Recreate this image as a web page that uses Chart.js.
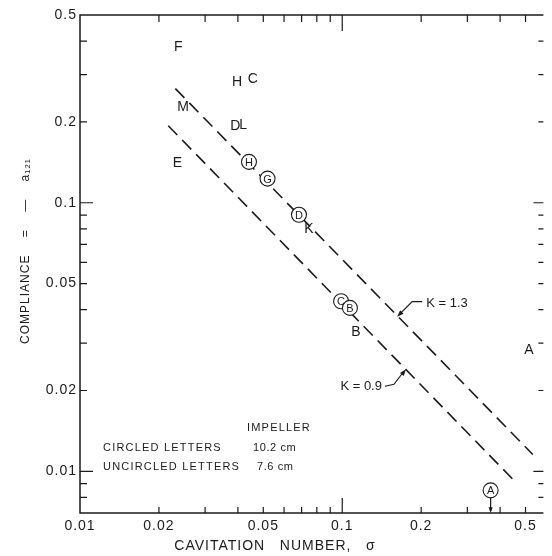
<!DOCTYPE html>
<html>
<head>
<meta charset="utf-8">
<script src="https://cdn.jsdelivr.net/npm/chart.js@4.4.0/dist/chart.umd.min.js"></script>
<style>
  html, body { margin: 0; padding: 0; background: #fff; }
  canvas { display: block; }
</style>
</head>
<body>
<canvas id="compliance-chart" width="552" height="556"></canvas>
<script>
// uncircled letters: 7.6 cm impeller
const uncircledLabels = ['F', 'H', 'C', 'M', 'D', 'L', 'E', 'K', 'B', 'A'];
const uncircledSigma = [0.0237, 0.0397, 0.0456, 0.0247, 0.0391, 0.0419, 0.0235, 0.0747, 0.1127, 0.515];
const uncircledCompliance = [0.382, 0.283, 0.292, 0.230, 0.195, 0.197, 0.142, 0.0807, 0.0333, 0.0285];

// circled letters: 10.2 cm impeller
const circledLabels = ['H', 'G', 'D', 'C', 'B', 'A'];
const circledSigma = [0.0441, 0.0519, 0.0684, 0.099, 0.107, 0.368];
const circledCompliance = [0.142, 0.123, 0.0902, 0.043, 0.0406, 0.0085];

// dashed K lines (end points)
const k13Sigma = [0.0231, 0.533];
const k13Compliance = [0.266, 0.01156];
const k09Sigma = [0.0217, 0.452];
const k09Compliance = [0.1936, 0.00925];

// where the label arrows touch the lines
const k13ArrowAt = [0.162, 0.038];
const k09ArrowAt = [0.175, 0.024];

// axes
const xTickValues = [0.01, 0.02, 0.05, 0.1, 0.2, 0.5];
const xTickLabels = ['0.01', '0.02', '0.05', '0.1', '0.2', '0.5'];
const yTickValues = [0.01, 0.02, 0.05, 0.1, 0.2, 0.5];
const yTickLabels = ['0.01', '0.02', '0.05', '0.1', '0.2', '0.5'];
const xMarkValues = [0.02, 0.03, 0.04, 0.05, 0.06, 0.07, 0.08, 0.09, 0.1, 0.2, 0.3, 0.4, 0.5];
const xLongMarks = [0.1];
const yMarkValues = [0.008, 0.009, 0.01, 0.02, 0.03, 0.04, 0.05, 0.06, 0.07, 0.08, 0.09, 0.1, 0.2, 0.3, 0.4];
const yLongMarks = [0.01, 0.1];

const ink = '#1b1b1b';
const fontFamily = "'Liberation Sans', Arial, sans-serif";

function toPoints(xs, ys) {
  return xs.map((x, i) => ({ x: x, y: ys[i] }));
}

function arrowHead(ctx, fromX, fromY, toX, toY, size) {
  const ang = Math.atan2(toY - fromY, toX - fromX);
  ctx.beginPath();
  ctx.moveTo(toX, toY);
  ctx.lineTo(toX - size * Math.cos(ang - 0.35), toY - size * Math.sin(ang - 0.35));
  ctx.lineTo(toX - size * Math.cos(ang + 0.35), toY - size * Math.sin(ang + 0.35));
  ctx.closePath();
  ctx.fill();
}

const figurePlugin = {
  id: 'figure',
  beforeDraw(chart) {
    chart.ctx.letterSpacing = '1px';
  },
  afterDraw(chart) {
    const ctx = chart.ctx;
    const area = chart.chartArea;
    const xs = chart.scales.x;
    const ys = chart.scales.y;
    ctx.save();
    ctx.strokeStyle = ink;
    ctx.fillStyle = ink;

    // frame (no right-hand line in the original)
    ctx.lineWidth = 1.5;
    ctx.beginPath();
    ctx.moveTo(area.right, area.top);
    ctx.lineTo(area.left, area.top);
    ctx.lineTo(area.left, area.bottom);
    ctx.lineTo(area.right, area.bottom);
    ctx.stroke();

    // inward tick marks
    ctx.lineWidth = 1.2;
    ctx.beginPath();
    xMarkValues.forEach(v => {
      const px = xs.getPixelForValue(v);
      const long = xLongMarks.includes(v);
      ctx.moveTo(px, area.bottom);
      ctx.lineTo(px, area.bottom - (long ? 15 : 6));
      ctx.moveTo(px, area.top);
      ctx.lineTo(px, area.top + (long ? 16 : 7));
    });
    yMarkValues.forEach(v => {
      const py = ys.getPixelForValue(v);
      const long = yLongMarks.includes(v);
      ctx.moveTo(area.left, py);
      ctx.lineTo(area.left + (long ? 13 : 7), py);
      ctx.moveTo(area.right, py);
      ctx.lineTo(area.right - (long ? 10 : 5), py);
    });
    ctx.stroke();

    // letters
    ctx.letterSpacing = '0px';
    ctx.textAlign = 'center';
    ctx.textBaseline = 'alphabetic';
    ctx.font = '14px ' + fontFamily;
    chart.getDatasetMeta(3).data.forEach((pt, i) => {
      ctx.fillText(uncircledLabels[i], pt.x, pt.y + 5);
    });
    ctx.font = '11px ' + fontFamily;
    chart.getDatasetMeta(0).data.forEach((pt, i) => {
      ctx.fillText(circledLabels[i], pt.x, pt.y + 4);
    });

    // arrow from circled A down to the axis
    const aPt = chart.getDatasetMeta(0).data[5];
    ctx.lineWidth = 1.2;
    ctx.beginPath();
    ctx.moveTo(aPt.x, aPt.y + 7.5);
    ctx.lineTo(aPt.x, area.bottom - 2);
    ctx.stroke();
    arrowHead(ctx, aPt.x, aPt.y + 7.5, aPt.x, area.bottom, 6);

    // K = 1.3 label
    ctx.font = '13px ' + fontFamily;
    let tx = xs.getPixelForValue(k13ArrowAt[0]);
    let ty = ys.getPixelForValue(k13ArrowAt[1]);
    ctx.beginPath();
    ctx.moveTo(tx + 25, ty - 14);
    ctx.lineTo(tx + 15, ty - 14);
    ctx.lineTo(tx + 2, ty - 1);
    ctx.stroke();
    arrowHead(ctx, tx + 15, ty - 14, tx, ty + 1, 7);
    ctx.textAlign = 'left';
    ctx.fillText('K = 1.3', tx + 29, ty - 9);

    // K = 0.9 label
    tx = xs.getPixelForValue(k09ArrowAt[0]);
    ty = ys.getPixelForValue(k09ArrowAt[1]);
    ctx.beginPath();
    ctx.moveTo(tx - 21, ty + 17);
    ctx.lineTo(tx - 12, ty + 15);
    ctx.lineTo(tx - 2, ty + 2);
    ctx.stroke();
    arrowHead(ctx, tx - 12, ty + 15, tx, ty, 7);
    ctx.textAlign = 'right';
    ctx.fillText('K = 0.9', tx - 24, ty + 21);

    // impeller key
    ctx.font = '11px ' + fontFamily;
    ctx.letterSpacing = '1.2px';
    ctx.textAlign = 'left';
    ctx.fillText('IMPELLER', 247, 431);
    ctx.fillText('CIRCLED LETTERS', 103, 451);
    ctx.fillText('UNCIRCLED LETTERS', 103, 470);
    ctx.letterSpacing = '0.6px';
    ctx.fillText('10.2 cm', 253, 451);
    ctx.fillText('7.6 cm', 257, 470);

    ctx.restore();
    ctx.letterSpacing = '0px';
  }
};

const ctx = document.getElementById('compliance-chart').getContext('2d');

new Chart(ctx, {
  type: 'scatter',
  data: {
    datasets: [
      {
        label: 'Circled letters (10.2 cm)',
        data: toPoints(circledSigma, circledCompliance),
        pointRadius: 7.5,
        pointBorderWidth: 1.1,
        pointBorderColor: ink,
        pointBackgroundColor: '#ffffff',
      },
      {
        label: 'K = 1.3',
        data: toPoints(k13Sigma, k13Compliance),
        showLine: true,
        borderColor: ink,
        borderWidth: 1.6,
        borderDash: [13, 7],
        pointRadius: 0,
      },
      {
        label: 'K = 0.9',
        data: toPoints(k09Sigma, k09Compliance),
        showLine: true,
        borderColor: ink,
        borderWidth: 1.6,
        borderDash: [13, 7],
        pointRadius: 0,
      },
      {
        label: 'Uncircled letters (7.6 cm)',
        data: toPoints(uncircledSigma, uncircledCompliance),
        pointRadius: 0,
      },
    ],
  },
  options: {
    responsive: false,
    animation: false,
    devicePixelRatio: 1,
    layout: { padding: { top: 15, right: 0, bottom: 0, left: 0 } },
    plugins: {
      legend: { display: false },
      tooltip: { enabled: false },
    },
    scales: {
      x: {
        type: 'logarithmic',
        min: 0.01,
        max: 0.585,
        grid: { display: false, drawTicks: false },
        border: { display: false },
        afterBuildTicks: scale => { scale.ticks = xTickValues.map(v => ({ value: v })); },
        afterFit: scale => { scale.height = 43; },
        ticks: {
          autoSkip: false,
          maxRotation: 0,
          padding: 5,
          color: ink,
          font: { family: fontFamily, size: 14 },
          callback: (value, index) => xTickLabels[index],
        },
        title: {
          display: true,
          text: 'CAVITATION   NUMBER,   σ' + ' '.repeat(15),
          color: ink,
          font: { family: fontFamily, size: 14 },
          padding: { top: 0, bottom: 1 },
        },
      },
      y: {
        type: 'logarithmic',
        min: 0.007,
        max: 0.5,
        grid: { display: false, drawTicks: false },
        border: { display: false },
        afterBuildTicks: scale => { scale.ticks = yTickValues.map(v => ({ value: v })); },
        afterFit: scale => { scale.width = 80; },
        ticks: {
          autoSkip: false,
          padding: 3,
          color: ink,
          font: { family: fontFamily, size: 14 },
          callback: (value, index) => yTickLabels[index],
        },
        title: {
          display: true,
          text: ' '.repeat(6) + 'COMPLIANCE    =    —    a₁₂₁',
          color: ink,
          font: { family: fontFamily, size: 12 },
          padding: { top: 18, bottom: 0 },
        },
      },
    },
  },
  plugins: [figurePlugin],
});
</script>
</body>
</html>
